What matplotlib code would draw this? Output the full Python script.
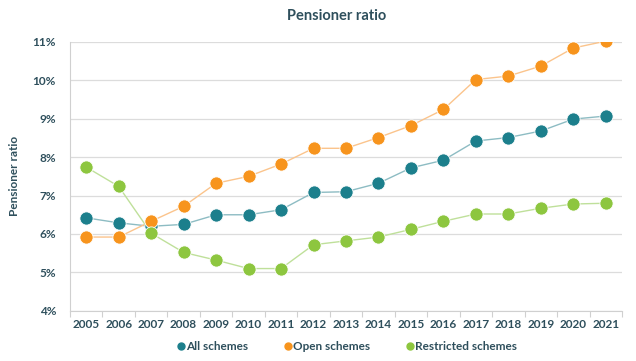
import matplotlib
matplotlib.use("Agg")
import matplotlib.pyplot as plt
from matplotlib.ticker import FuncFormatter, MultipleLocator
from matplotlib.lines import Line2D

# Данные
years = [str(y) for y in range(2005, 2022)]
all_schemes = [6.42, 6.29, 6.20, 6.25, 6.50, 6.50, 6.63, 7.08, 7.10, 7.32,
               7.72, 7.92, 8.42, 8.51, 8.68, 8.99, 9.07]
open_schemes = [5.92, 5.92, 6.33, 6.72, 7.32, 7.50, 7.82, 8.23, 8.23, 8.51,
                8.82, 9.24, 10.02, 10.11, 10.37, 10.84, 11.02]
restricted_schemes = [7.74, 7.24, 6.02, 5.52, 5.32, 5.10, 5.10, 5.72, 5.82, 5.92,
                      6.12, 6.33, 6.52, 6.52, 6.67, 6.78, 6.80]

series = [
    ("All schemes", all_schemes, "#1C7F8C", "#8DBCC3"),
    ("Open schemes", open_schemes, "#F7941D", "#FBC48C"),
    ("Restricted schemes", restricted_schemes, "#8DC63F", "#BFE09A"),
]

TEXT = "#2E4F5C"
plt.rcParams['font.family'] = ['Lato', 'DejaVu Sans']

fig = plt.figure(figsize=(6.36, 3.61), dpi=100)
ax = fig.add_axes([0.110, 0.139, 0.868, 0.745])

x = list(range(len(years)))
for name, vals, c, lc in series:
    ax.plot(x, vals, color=lc, linewidth=1.0, zorder=2)
    ax.plot(x, vals, linestyle='none', marker='o', markersize=9.5,
            markerfacecolor=c, markeredgecolor='white', markeredgewidth=0.6,
            zorder=3)

ax.set_xlim(-0.5, len(years) - 0.5)
ax.set_ylim(4, 11)
ax.yaxis.set_major_locator(MultipleLocator(1))
ax.yaxis.set_major_formatter(FuncFormatter(lambda v, p: f"{v:.0f}%"))
ax.set_xticks(x)
ax.set_xticklabels(years)
ax.set_xticks([i - 0.5 for i in range(len(years) + 1)], minor=True)
ax.tick_params(axis='x', which='major', length=0, pad=6, labelsize=8.5,
               labelcolor=TEXT)
ax.tick_params(axis='x', which='minor', length=4, color='#D0D0D0', width=0.8)
ax.tick_params(axis='y', length=0, pad=10, labelsize=8.5, labelcolor=TEXT)
for lbl in ax.get_xticklabels() + ax.get_yticklabels():
    lbl.set_fontweight('bold')

ax.grid(axis='y', color='#DCDCDC', linewidth=0.9)
ax.set_axisbelow(True)
for s in ['top', 'right']:
    ax.spines[s].set_visible(False)
ax.spines['left'].set_color('#D0D0D0')
ax.spines['bottom'].set_color('#D0D0D0')

ax.set_ylabel("Pensioner ratio", fontsize=8.5, fontweight='bold', color=TEXT,
              labelpad=9)
fig.suptitle("Pensioner ratio", x=0.53, y=0.975, fontsize=10.5, fontweight='bold',
             color=TEXT)

handles = [Line2D([], [], linestyle='none', marker='o', markersize=5,
                  markerfacecolor=c, markeredgecolor=c, label=name)
           for name, _, c, _ in series]
leg = fig.legend(handles=handles, loc='center', bbox_to_anchor=(0.545, 0.04),
                 ncol=3, frameon=False, fontsize=8.5, handletextpad=0.1,
                 columnspacing=2.9, handlelength=0.8)
for t in leg.get_texts():
    t.set_color(TEXT)
    t.set_fontweight('bold')

fig.savefig("out.png", dpi=100, facecolor='white')
